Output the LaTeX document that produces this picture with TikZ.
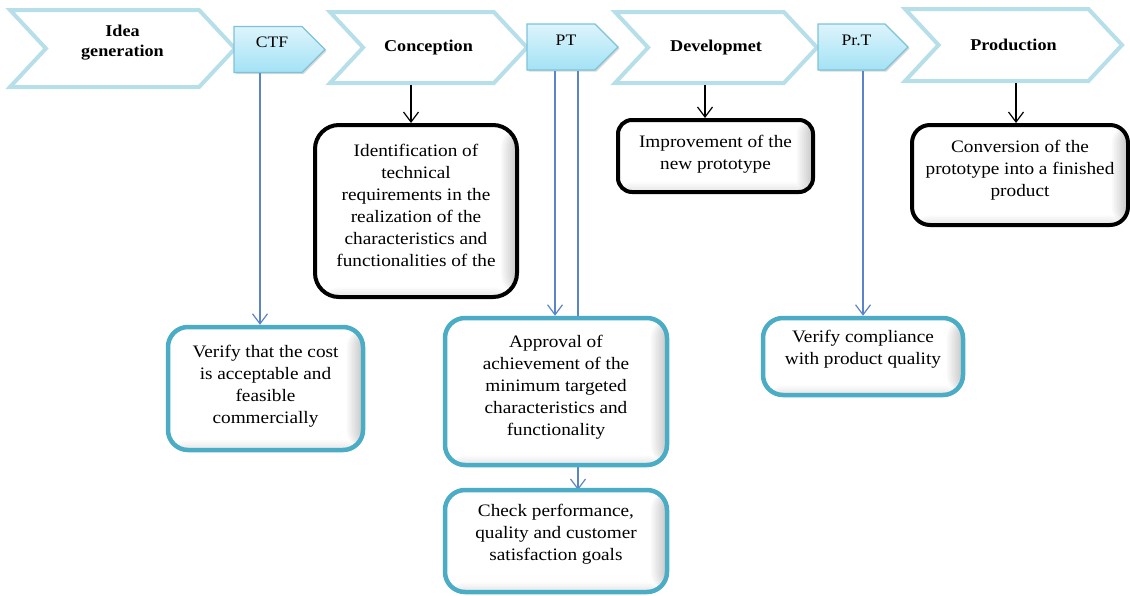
\documentclass[tikz,border=0pt]{standalone}
\usepackage{fontspec}
\setmainfont{Liberation Serif}[FakeStretch=1.1]
\usetikzlibrary{shapes.symbols,arrows.meta,shadows}
\definecolor{chevline}{HTML}{B7DFE9}
\definecolor{tagtop}{HTML}{DDF4FC}
\definecolor{tagbot}{HTML}{A3E2F5}
\definecolor{tagline}{HTML}{7CC3D8}
\definecolor{boxblue}{HTML}{4BACC6}
\definecolor{linkblue}{HTML}{5B85C8}
\begin{document}
\begin{tikzpicture}[x=1pt,y=-1pt,
  chevron/.style={shape=signal, signal from=west, signal to=east,
    signal pointer angle=94, draw=chevline, line width=4pt, fill=white,
    inner sep=0pt, font=\fontsize{16.5}{20}\selectfont\bfseries, align=center},
  chevtxt/.style={inner sep=0pt, font=\fontsize{16.5}{20}\selectfont\bfseries, align=center},
  tag/.style={shape=signal, signal to=east, signal pointer angle=90,
    draw=tagline, line width=1.2pt, top color=tagtop, bottom color=tagbot,
    inner sep=0pt, minimum width=91pt, minimum height=46pt,
    drop shadow={shadow xshift=1.5pt, shadow yshift=-1.5pt, opacity=0.3}},
  tagtxt/.style={font=\fontsize{16}{18}\selectfont, inner sep=0pt},
  % soft inner shadow along the right and bottom edges, built from thin translucent strips
  innershade/.style={path picture={
    \foreach \i in {1,...,9}
      \fill[black, opacity=0.022]
        ([xshift=-1.8*\i pt]path picture bounding box.north east) rectangle (path picture bounding box.south east);
    \foreach \i in {1,...,6}
      \fill[black, opacity=0.015]
        ([yshift=1.6*\i pt]path picture bounding box.south west) rectangle (path picture bounding box.south east);}},
  bbox/.style={draw=boxblue, line width=4.5pt, rounded corners=20pt, fill=white, inner sep=0pt, innershade},
  kbox/.style={draw=black, line width=4pt, rounded corners=18pt, fill=white, inner sep=0pt, innershade},
  btxt/.style={anchor=north, align=center, inner sep=0pt, font=\fontsize{17.5}{22}\selectfont},
  bluelink/.style={draw=linkblue, line width=1.2pt, -{Straight Barb[length=10pt,width=15pt]}},
  blacklink/.style={draw=black, line width=1.2pt, -{Straight Barb[length=10pt,width=15pt]}},
]
\useasboundingbox (0,0) rectangle (1130,595);

% process chevrons
\node[chevron, minimum width=225pt, minimum height=77pt] (idea) at (122.5,48.5) {};
\node[chevtxt] (ideatxt) at ([yshift=6pt]idea.center) {Idea\\generation};
\node[chevron, minimum width=197pt, minimum height=71pt] (concep) at (428.5,47.5) {Conception};
\node[chevron, minimum width=202pt, minimum height=71pt] (devel) at (716,47.5) {Developmet};
\node[chevron, minimum width=217pt, minimum height=72pt] (prod) at (1013.5,45) {Production};

% gate tags (the signal centre sits on the body, the point adds to the east)
\node[tag] (ctf) at (268,49.5) {};
\node[tagtxt] (ctftxt) at ([xshift=4pt,yshift=7pt]ctf.center) {CTF};
\node[tag] (pt) at (561,47) {};
\node[tagtxt] (pttxt) at ([xshift=5pt,yshift=7pt]pt.center) {PT};
\node[tag, minimum width=90pt] (prt) at (851.5,47) {};
\node[tagtxt] (prttxt) at ([xshift=5pt,yshift=7pt]prt.center) {Pr.T};

% detail boxes
\node[kbox, minimum width=202pt, minimum height=172pt, rounded corners=24pt] (ident) at (416,211) {};
\node[btxt] (identtxt) at ([yshift=-21pt]ident.north) {Identification of\\technical\\requirements in the\\realization of the\\characteristics and\\functionalities of the};
\node[kbox, minimum width=195pt, minimum height=72pt, rounded corners=14pt] (improve) at (715.5,156) {};
\node[btxt] (improvetxt) at ([yshift=-17pt]improve.north) {Improvement of the\\new prototype};
\node[kbox, minimum width=216pt, minimum height=100pt] (conv) at (1020,175) {};
\node[btxt] (convtxt) at ([yshift=-17pt]conv.north) {Conversion of the\\prototype into a finished\\product};

% connector behind the approval box
\draw[bluelink] ([xshift=17pt]pt.south) -- ([xshift=17pt]pt.south |- 0,490);

\node[bbox, minimum width=195pt, minimum height=123pt] (cost) at (265.5,388.5) {};
\node[btxt] (costtxt) at ([yshift=-20pt]cost.north) {Verify that the cost\\is acceptable and\\feasible\\commercially};
\node[bbox, minimum width=222pt, minimum height=147pt] (approv) at (556,391.5) {};
\node[btxt] (approvtxt) at ([yshift=-19pt]approv.north) {Approval of\\achievement of the\\minimum targeted\\characteristics and\\functionality};
\node[bbox, minimum width=222pt, minimum height=102pt] (check) at (556,541) {};
\node[btxt] (checktxt) at ([yshift=-16pt]check.north) {Check performance,\\quality and customer\\satisfaction goals};
\node[bbox, minimum width=200pt, minimum height=77pt] (comply) at (863,356.5) {};
\node[btxt] (complytxt) at ([yshift=-14pt]comply.north) {Verify compliance\\with product quality};

% connectors
\draw[bluelink] ([xshift=-8pt]ctf.south) -- ([xshift=-8pt]ctf.south |- cost.north);
\draw[bluelink] ([xshift=-6pt]pt.south) -- ([xshift=-6pt]pt.south |- approv.north);
\draw[bluelink] ([xshift=11.5pt]prt.south) -- ([xshift=11.5pt]prt.south |- comply.north);
\draw[blacklink] ([xshift=-17.5pt]concep.south) -- ([xshift=-17.5pt]concep.south |- ident.north);
\draw[blacklink] ([xshift=-11pt]devel.south) -- ([xshift=-11pt]devel.south |- improve.north);
\draw[blacklink] ([xshift=2.5pt]prod.south) -- ([xshift=2.5pt]prod.south |- conv.north);
\end{tikzpicture}
\end{document}
